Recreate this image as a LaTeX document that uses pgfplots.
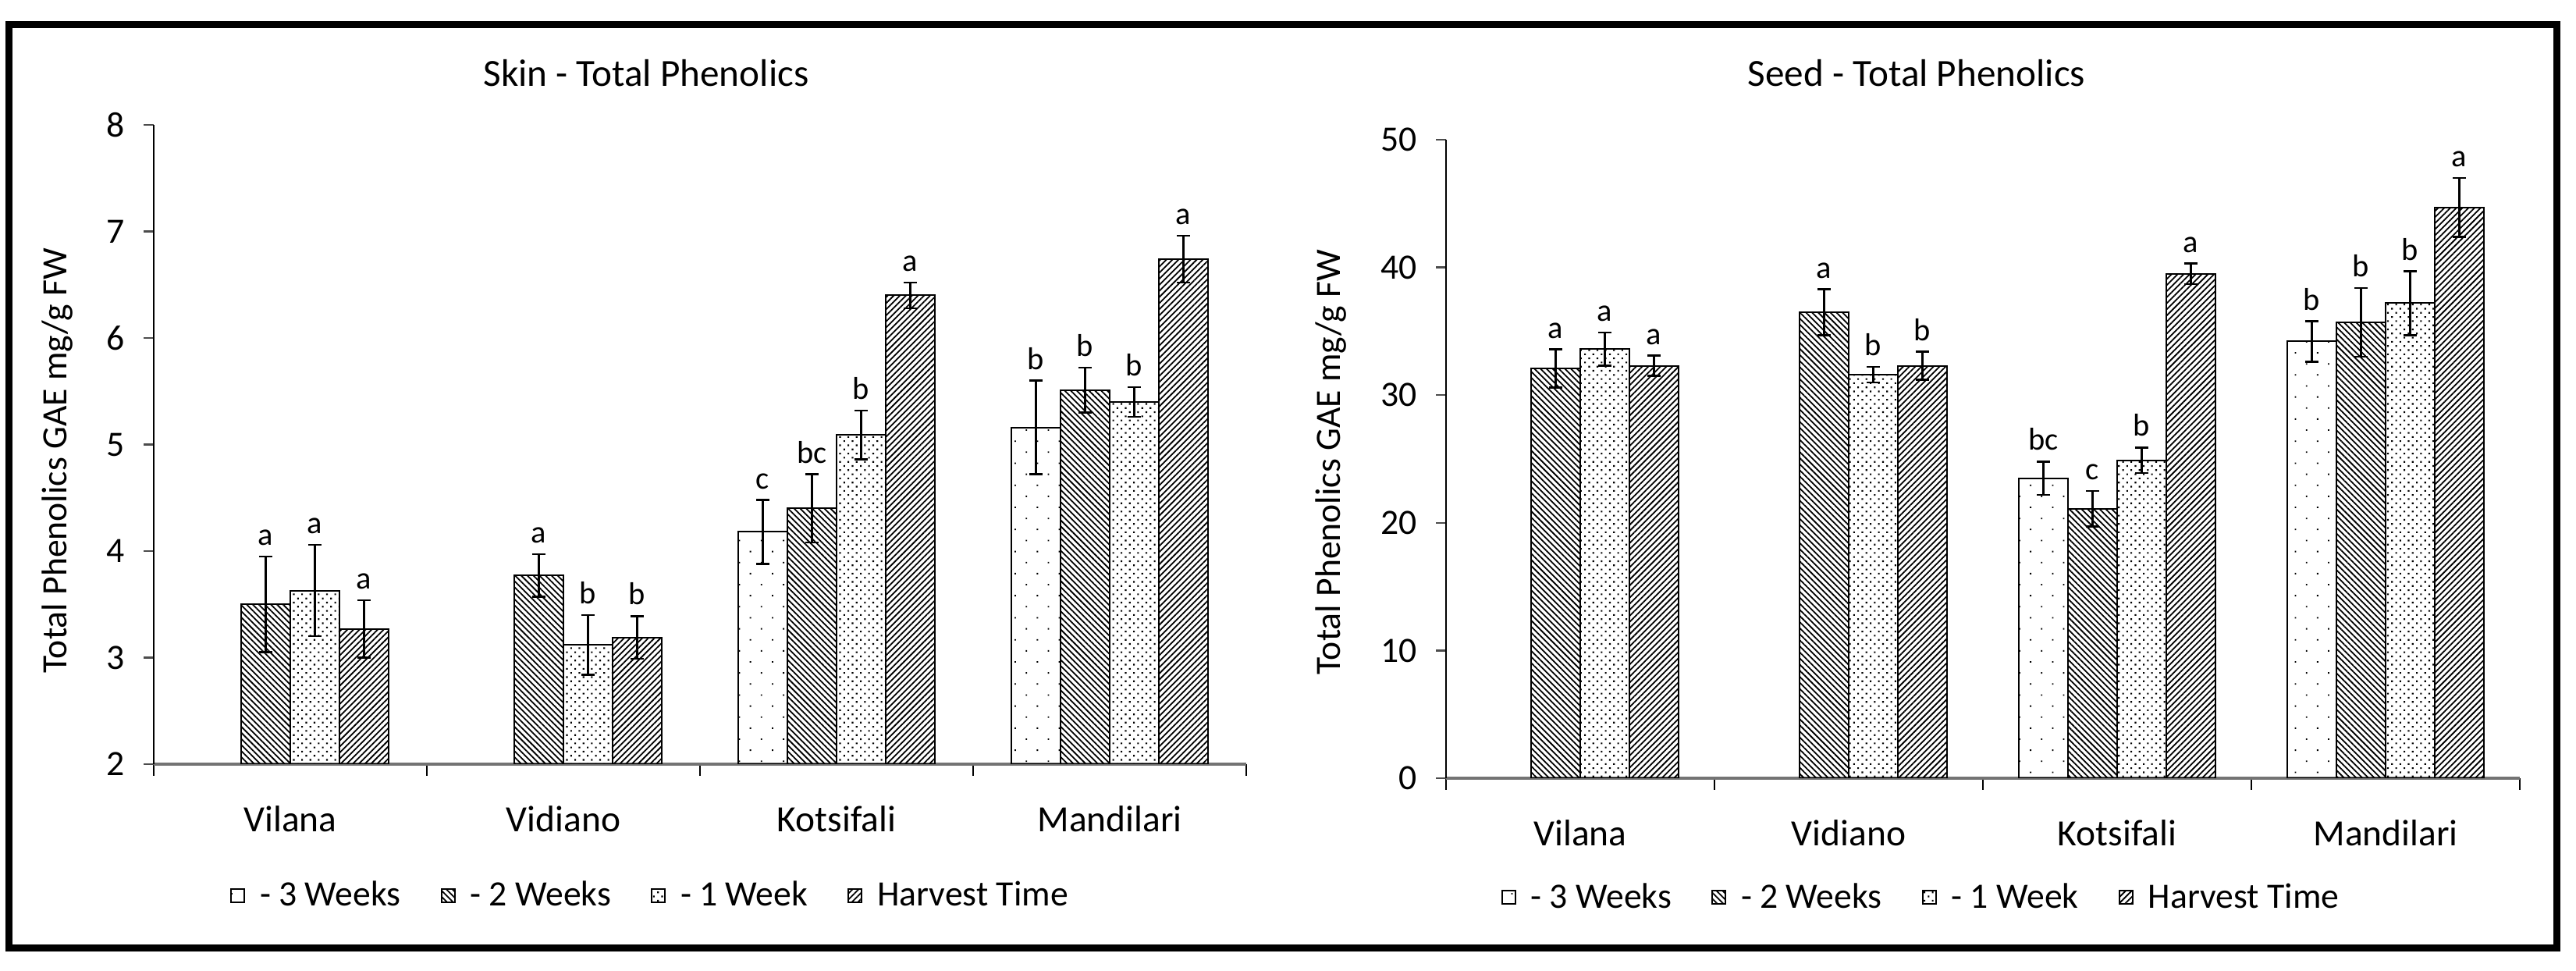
\documentclass[border=0pt]{standalone}
\usepackage{fontspec}
\setmainfont{Carlito}
\usepackage{pgfplots}
\pgfplotsset{compat=1.18}
\usepackage{pgfplotstable}
\usetikzlibrary{patterns.meta}

% x: 0 Vilana, 1 Vidiano, 2 Kotsifali, 3 Mandilari; y mean, e error, lab letter
\pgfplotstableread{
x y e lab
2 4.18 0.30 c
3 5.16 0.44 b
}\skinA
\pgfplotstableread{
x y e lab
0 3.50 0.45 a
1 3.77 0.20 a
2 4.40 0.32 bc
3 5.51 0.21 b
}\skinB
\pgfplotstableread{
x y e lab
0 3.63 0.43 a
1 3.12 0.28 b
2 5.09 0.23 b
3 5.40 0.14 b
}\skinC
\pgfplotstableread{
x y e lab
0 3.27 0.27 a
1 3.19 0.20 b
2 6.40 0.12 a
3 6.74 0.22 a
}\skinD

\pgfplotstableread{
x y e lab
2 23.5 1.3 bc
3 34.2 1.6 b
}\seedA
\pgfplotstableread{
x y e lab
0 32.1 1.5 a
1 36.5 1.8 a
2 21.1 1.4 c
3 35.7 2.7 b
}\seedB
\pgfplotstableread{
x y e lab
0 33.6 1.3 a
1 31.6 0.6 b
2 24.9 1.0 b
3 37.2 2.5 b
}\seedC
\pgfplotstableread{
x y e lab
0 32.3 0.8 a
1 32.3 1.1 b
2 39.5 0.8 a
3 44.7 2.3 a
}\seedD

\pgfplotsset{
  barleg/.style={legend image code/.code={\draw[##1] (0mm,-0.85mm) rectangle (1.7mm,0.85mm);}},
  wk3/.style={draw=black, line width=0.2mm, pattern={Dots[distance=2mm, angle=45, radius=0.13mm]}, barleg},
  wk2/.style={draw=black, line width=0.2mm, pattern={Lines[angle=-45, distance=0.55mm, line width=0.18mm]}, barleg},
  wk1/.style={draw=black, line width=0.2mm, pattern={Dots[distance=0.75mm, angle=45, radius=0.15mm]}, barleg},
  wkH/.style={draw=black, line width=0.2mm, pattern={Lines[angle=45, distance=0.55mm, line width=0.18mm]}, barleg},
  phen/.style={
    scale only axis, anchor=south west,
    ybar=0pt, bar width=6.3mm,
    xmin=-0.5, xmax=3.5,
    axis x line*=bottom, axis y line*=left,
    axis line style={-},
    x axis line style={draw=gray!90!black, line width=0.4mm},
    y axis line style={draw=black, line width=0.2mm},
    xtick={0,1,2,3},
    xticklabels={Vilana,Vidiano,Kotsifali,Mandilari},
    major x tick style={draw=none},
    minor xtick={-0.5,0.5,1.5,2.5,3.5},
    minor tick length=1.5mm,
    minor x tick style={draw=black, line width=0.15mm},
    major tick length=1.3mm,
    tick align=outside,
    ytick style={draw=gray!60!black, line width=0.25mm},
    /pgf/number format/assume math mode=true,
    yticklabel style={font=\fontsize{13}{15}\selectfont, xshift=-1.2mm},
    xticklabel style={font=\fontsize{13.5}{15}\selectfont, yshift=-2.8mm},
    error bars/y dir=both, error bars/y explicit,
    error bars/error bar style={black, line width=0.25mm},
    error bars/error mark options={rotate=90, black, line width=0.25mm, mark size=0.85mm},
    nodes near coords={\pgfplotspointmeta},
    point meta=explicit symbolic,
    visualization depends on={\thisrow{e} \as \err},
    every node near coord/.append style={anchor=south, inner sep=0pt, yshift=1.3mm,
      font=\fontsize{11.5}{13}\selectfont, shift={(axis direction cs:0,\err)}},
    legend columns=4,
    legend style={draw=none, fill=none, anchor=center, font=\fontsize{13}{15}\selectfont,
      /tikz/every odd column/.append style={column sep=1.2mm},
      /tikz/every even column/.append style={column sep=4.4mm}},
  },
}

\begin{document}
\begin{tikzpicture}
\useasboundingbox (0,0) rectangle (330.1mm,124.4mm);
\draw[line width=0.9mm] (1.1mm,2.9mm) rectangle (327.6mm,121.2mm);

\node[anchor=base, font=\fontsize{14}{16}\selectfont] at (82.8mm,113.3mm) {Skin - Total Phenolics};
\node[anchor=base, font=\fontsize{14}{16}\selectfont] at (245.6mm,113.3mm) {Seed - Total Phenolics};
\node[rotate=90, font=\fontsize{13}{15}\selectfont] at (7.35mm,65.4mm) {Total Phenolics GAE mg/g FW};
\node[rotate=90, font=\fontsize{13}{15}\selectfont] at (170.55mm,65.2mm) {Total Phenolics GAE mg/g FW};

\begin{axis}[phen, at={(19.7mm,26.5mm)}, width=140mm, height=81.9mm,
  ymin=2, ymax=8, ytick={2,3,4,5,6,7,8},
  legend style={at={(0.456,-0.206)}}]
\addplot[wk3] table[x=x, y=y, y error=e, meta=lab] \skinA;
\addlegendentry{- 3 Weeks}
\addplot[wk2] table[x=x, y=y, y error=e, meta=lab] \skinB;
\addlegendentry{- 2 Weeks}
\addplot[wk1] table[x=x, y=y, y error=e, meta=lab] \skinC;
\addlegendentry{- 1 Week}
\addplot[wkH] table[x=x, y=y, y error=e, meta=lab] \skinD;
\addlegendentry{Harvest Time}
\end{axis}

\begin{axis}[phen, at={(185.3mm,24.7mm)}, width=137.6mm, height=81.8mm,
  ymin=0, ymax=50, ytick={0,10,20,30,40,50},
  legend style={at={(0.444,-0.187)}}]
\addplot[wk3] table[x=x, y=y, y error=e, meta=lab] \seedA;
\addlegendentry{- 3 Weeks}
\addplot[wk2] table[x=x, y=y, y error=e, meta=lab] \seedB;
\addlegendentry{- 2 Weeks}
\addplot[wk1] table[x=x, y=y, y error=e, meta=lab] \seedC;
\addlegendentry{- 1 Week}
\addplot[wkH] table[x=x, y=y, y error=e, meta=lab] \seedD;
\addlegendentry{Harvest Time}
\end{axis}
\end{tikzpicture}
\end{document}
